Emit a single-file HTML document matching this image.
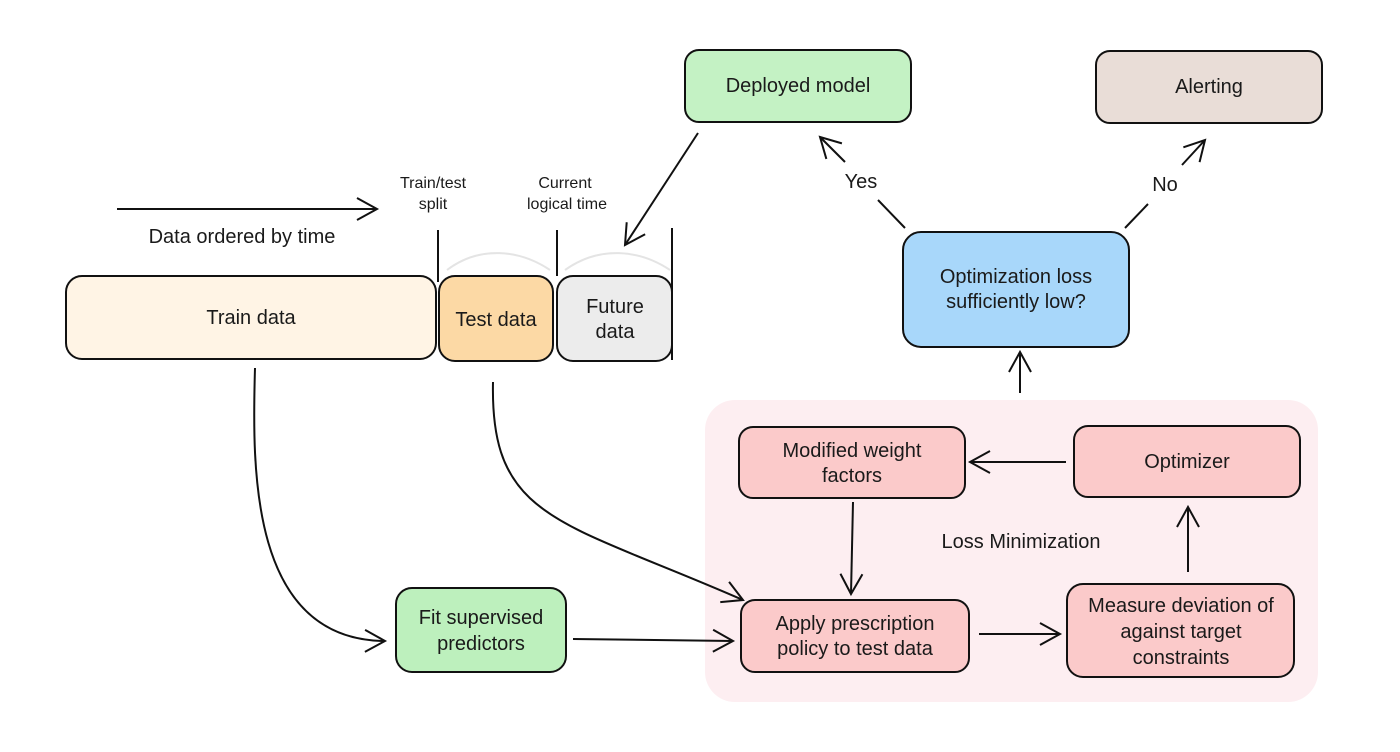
<!DOCTYPE html>
<html><head><meta charset="utf-8"><style>
html,body{margin:0;padding:0;background:#fff;}
svg{display:block;}
text{font-family:"Liberation Sans",sans-serif;fill:#1a1a1a;}
</style></head><body>
<svg width="1400" height="752" viewBox="0 0 1400 752" xmlns="http://www.w3.org/2000/svg">
<defs>
<marker id="a" markerWidth="28" markerHeight="28" refX="22" refY="14" orient="auto" markerUnits="userSpaceOnUse">
<path d="M2,3 L22,14 L2,25" fill="none" stroke="#111" stroke-width="2"/>
</marker>
</defs>
<rect x="705" y="400" width="613" height="302" rx="30" fill="#fdeef1"/>
<g stroke="#111" stroke-width="2">
<rect x="685" y="50" width="226" height="72" rx="14" fill="#c4f2c4"/>
<rect x="1096" y="51" width="226" height="72" rx="14" fill="#e9ddd7"/>
<rect x="903" y="232" width="226" height="115" rx="18" fill="#a8d7fa"/>
<rect x="66" y="276" width="370" height="83" rx="16" fill="#fff4e5"/>
<rect x="439" y="276" width="114" height="85" rx="16" fill="#fcd9a5"/>
<rect x="557" y="276" width="115" height="85" rx="16" fill="#ececec"/>
<rect x="739" y="427" width="226" height="71" rx="14" fill="#fbcaca"/>
<rect x="1074" y="426" width="226" height="71" rx="14" fill="#fbcaca"/>
<rect x="741" y="600" width="228" height="72" rx="14" fill="#fbcaca"/>
<rect x="1067" y="584" width="227" height="93" rx="16" fill="#fbcaca"/>
<rect x="396" y="588" width="170" height="84" rx="16" fill="#bdf0bd"/>
</g>
<g stroke="#111" stroke-width="2" fill="none">
<line x1="117" y1="209" x2="377" y2="209" marker-end="url(#a)"/>
<line x1="438" y1="230" x2="438" y2="282"/>
<line x1="557" y1="230" x2="557" y2="276"/>
<line x1="672" y1="228" x2="672" y2="360"/>
<line x1="698" y1="133" x2="625" y2="245" marker-end="url(#a)"/>
<line x1="905" y1="228" x2="878" y2="200"/>
<line x1="845" y1="162" x2="820" y2="137" marker-end="url(#a)"/>
<line x1="1125" y1="228" x2="1148" y2="204"/>
<line x1="1182" y1="165" x2="1205" y2="140" marker-end="url(#a)"/>
<line x1="1020" y1="393" x2="1020" y2="352" marker-end="url(#a)"/>
<path d="M255,368 C252,470 250,640 385,641" marker-end="url(#a)"/>
<path d="M493,382 C490,520 560,520 743,600" marker-end="url(#a)"/>
<line x1="573" y1="639" x2="733" y2="641" marker-end="url(#a)"/>
<line x1="853" y1="502" x2="851" y2="594" marker-end="url(#a)"/>
<line x1="1066" y1="462" x2="970" y2="462" marker-end="url(#a)"/>
<line x1="979" y1="634" x2="1060" y2="634" marker-end="url(#a)"/>
<line x1="1188" y1="572" x2="1188" y2="507" marker-end="url(#a)"/>
</g>
<g stroke="#e4e4e4" stroke-width="2" fill="none">
<path d="M447,270 C480,245 520,250 550,270"/>
<path d="M565,270 C600,245 640,250 670,270"/>
</g>
<g font-size="20" text-anchor="middle">
<text x="798" y="92">Deployed model</text>
<text x="1209" y="93">Alerting</text>
<text x="1016" y="283">Optimization loss</text>
<text x="1016" y="308">sufficiently low?</text>
<text x="251" y="324">Train data</text>
<text x="496" y="326">Test data</text>
<text x="615" y="313">Future</text>
<text x="615" y="338">data</text>
<text x="852" y="457">Modified weight</text>
<text x="852" y="482">factors</text>
<text x="1187" y="468">Optimizer</text>
<text x="855" y="630">Apply prescription</text>
<text x="855" y="655">policy to test data</text>
<text x="1181" y="612">Measure deviation of</text>
<text x="1181" y="638">against target</text>
<text x="1181" y="664">constraints</text>
<text x="481" y="624">Fit supervised</text>
<text x="481" y="650">predictors</text>
<text x="242" y="243">Data ordered by time</text>
<text x="861" y="188">Yes</text>
<text x="1165" y="191">No</text>
<text x="1021" y="548">Loss Minimization</text>
</g>
<g font-size="16" text-anchor="middle">
<text x="433" y="188">Train/test</text>
<text x="433" y="209">split</text>
<text x="565" y="188">Current</text>
<text x="567" y="209">logical time</text>
</g>
</svg>
</body></html>
